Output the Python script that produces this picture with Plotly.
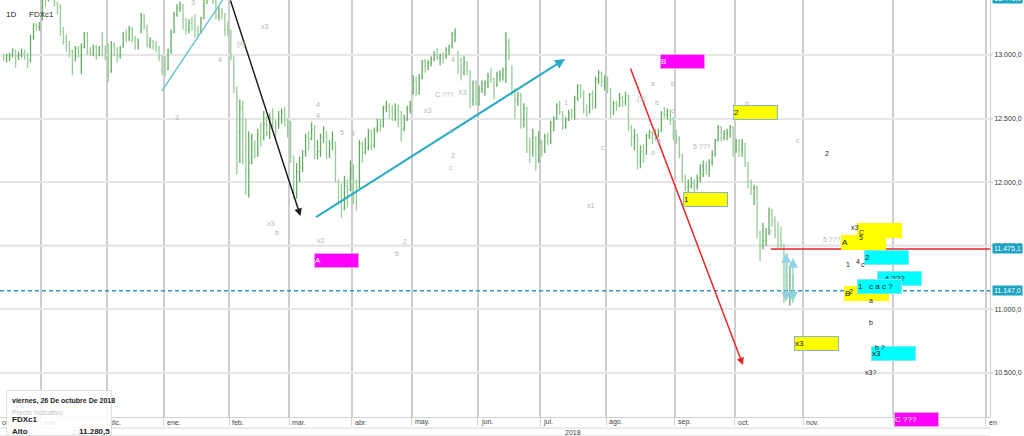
import pandas as pd
import plotly.graph_objects as go

# ---------------- DATA: daily OHLC (open, high, low, close) per month ----------------
oct17 = [(12990,13010,12950,12980),(12975,13010,12940,12995),(12990,13020,12950,12995),
         (13000,13050,12980,13040),(13030,13040,12900,12990),(12990,13030,12960,13000),
         (13000,13050,12980,13010),(13010,13040,12960,13000),(13000,13020,12900,12960),
         (12960,13160,12940,13130),(13140,13250,13120,13230),(13230,13250,13190,13220),
         (13220,13260,13190,13240)]
nov17 = [(13280,13480,13270,13460),(13450,13470,13380,13440),(13440,13500,13420,13480),
         (13480,13500,13430,13470),(13470,13540,13380,13400),(13400,13420,13320,13380),
         (13380,13400,13150,13190),(13190,13220,13080,13130),(13130,13160,13030,13080),
         (13080,13110,12980,13030),(13030,13040,12840,12960),(12960,13070,12950,13050),
         (13050,13070,12980,12990),(12990,13090,12850,13060),(13060,13180,13050,13170),
         (13170,13180,13000,13020),(13020,13060,12990,13010),(13010,13080,12990,13060),
         (13060,13080,12960,13000),(13000,13070,12990,13060),(13060,13180,12990,13050),
         (13050,13070,12960,13020)]
dec17 = [(13020,13090,12790,12870),(12870,13110,12860,13080),(13080,13100,12990,13050),
         (13050,13060,12940,12990),(12990,13070,12970,13050),(13060,13180,13060,13160),
         (13160,13200,13100,13130),(13130,13230,13110,13200),(13200,13220,13100,13130),
         (13130,13150,13040,13070),(13070,13130,13040,13110),(13180,13330,13170,13310),
         (13310,13320,13200,13220),(13220,13240,13060,13080),(13080,13140,13050,13110),
         (13110,13120,13040,13070),(13070,13110,13020,13060),(13060,13070,12950,12980),
         (12980,13000,12840,12900)]
jan18 = [(12900,12990,12830,12880),(12890,13050,12880,13020),(13020,13200,13010,13180),
         (13180,13340,13170,13320),(13320,13400,13300,13370),(13370,13420,13340,13390),
         (13390,13400,13200,13280),(13280,13290,13160,13200),(13200,13280,13170,13250),
         (13250,13300,13190,13210),(13210,13320,13140,13190),(13190,13230,13140,13190),
         (13190,13300,13170,13290),(13290,13450,13280,13440),(13440,13480,13400,13470),
         (13470,13600,13450,13560),(13560,13580,13400,13420),(13420,13440,13280,13300),
         (13300,13380,13270,13340),(13340,13370,13280,13320),(13320,13330,13150,13200),
         (13200,13260,13150,13190)]
feb18 = [(13190,13200,12960,12990),(12980,12990,12700,12750),(12740,12750,12060,12400),
         (12400,12650,12150,12580),(12580,12640,12140,12250),(12250,12500,11900,12100),
         (12100,12400,11880,12150),(12150,12380,12140,12300),(12300,12330,12190,12210),
         (12210,12420,12200,12380),(12380,12470,12280,12350),(12350,12560,12330,12460),
         (12460,12520,12360,12390),(12390,12540,12340,12500),(12500,12580,12420,12470),
         (12470,12490,12330,12460),(12460,12560,12420,12500),(12500,12580,12460,12540),
         (12540,12590,12440,12490),(12490,12500,12350,12430)]
mar18 = [(12430,12480,12150,12200),(12200,12210,11870,11920),(11920,12150,11870,12080),
         (12080,12200,12000,12120),(12120,12250,12080,12240),(12240,12380,12200,12350),
         (12350,12400,12250,12340),(12340,12470,12330,12420),(12420,12450,12180,12220),
         (12220,12330,12180,12240),(12240,12380,12200,12350),(12350,12440,12310,12390),
         (12390,12400,12180,12220),(12220,12330,12190,12300),(12300,12400,12250,12310),
         (12310,12320,12000,12100),(12000,12020,11820,11880),(11880,11990,11720,11790),
         (11790,12050,11780,11970),(11970,12020,11800,11940),(11940,12170,11930,12100)]
apr18 = [(12100,12140,11830,12000),(12000,12020,11780,11960),(11960,12330,11950,12300),
         (12300,12320,12150,12230),(12230,12350,12220,12270),(12270,12420,12250,12400),
         (12400,12410,12250,12290),(12290,12430,12270,12410),(12410,12500,12390,12450),
         (12450,12500,12400,12440),(12440,12600,12430,12590),(12590,12640,12550,12600),
         (12600,12620,12500,12560),(12560,12600,12480,12540),(12540,12620,12480,12570),
         (12570,12610,12430,12550),(12550,12560,12320,12420),(12420,12530,12400,12500),
         (12500,12600,12480,12580),(12580,12640,12540,12610)]
may18 = [(12700,12840,12690,12800),(12800,12830,12680,12700),(12700,12850,12690,12820),
         (12820,12960,12810,12950),(12950,12970,12860,12910),(12910,12960,12880,12940),
         (12940,12990,12910,12970),(12970,13030,12950,13000),(13000,13050,12960,12980),
         (12980,13010,12920,13000),(13000,13020,12930,12990),(12990,13060,12970,13040),
         (13040,13080,13000,13070),(13070,13180,13050,13160),(13160,13210,13100,13170),
         (13020,13030,12850,12960),(12960,12980,12800,12860),(12860,12990,12840,12940),
         (12940,12950,12840,12870),(12870,12880,12580,12650),(12650,12800,12600,12780),
         (12780,12800,12600,12620)]
jun18 = [(12620,12760,12600,12730),(12730,12800,12700,12770),(12770,12800,12680,12780),
         (12780,12860,12740,12830),(12830,12900,12780,12810),(12810,12820,12650,12760),
         (12760,12870,12750,12840),(12840,12880,12790,12850),(12850,12900,12800,12880),
         (12880,13180,12780,13110),(13110,13130,12960,13000),(12900,12920,12680,12720),
         (12720,12740,12500,12650),(12650,12710,12600,12680),(12680,12700,12420,12500),
         (12500,12620,12430,12580),(12580,12590,12230,12270),(12270,12350,12150,12230),
         (12230,12420,12200,12350),(12350,12360,12090,12170),(12170,12400,12150,12310)]
jul18 = [(12310,12330,12200,12250),(12250,12380,12230,12360),(12360,12390,12290,12320),
         (12320,12480,12300,12460),(12460,12520,12400,12500),(12500,12620,12490,12610),
         (12610,12640,12530,12550),(12550,12560,12410,12430),(12430,12510,12420,12490),
         (12490,12570,12480,12540),(12540,12580,12500,12520),(12520,12680,12490,12660),
         (12660,12770,12640,12760),(12760,12770,12660,12690),(12690,12720,12540,12570),
         (12570,12610,12510,12550),(12550,12700,12540,12690),(12690,12720,12570,12590),
         (12590,12830,12580,12810),(12810,12880,12770,12860),(12860,12870,12750,12790),
         (12790,12840,12720,12800)]
aug18 = [(12800,12830,12700,12730),(12730,12740,12500,12550),(12550,12640,12530,12620),
         (12620,12640,12560,12600),(12600,12700,12590,12660),(12660,12680,12590,12630),
         (12630,12710,12600,12680),(12680,12690,12400,12430),(12430,12450,12280,12360),
         (12360,12420,12250,12370),(12370,12380,12100,12160),(12160,12290,12110,12240),
         (12240,12300,12150,12220),(12220,12380,12220,12370),(12370,12410,12340,12390),
         (12390,12400,12300,12380),(12380,12420,12330,12370),(12370,12420,12350,12400),
         (12400,12560,12400,12540),(12540,12590,12500,12530),(12530,12580,12490,12560),
         (12560,12570,12450,12490),(12490,12510,12330,12370)]
sep18 = [(12370,12410,12300,12340),(12340,12360,12190,12210),(12210,12220,12000,12040),
         (12040,12060,11930,11960),(11960,12020,11920,11970),(11970,12040,11950,11990),
         (11990,12020,11920,11970),(11970,12060,11940,12030),(12030,12140,12000,12060),
         (12060,12170,12040,12130),(12130,12160,12060,12100),(12100,12180,12040,12160),
         (12160,12250,12130,12220),(12220,12340,12200,12330),(12330,12450,12320,12430),
         (12430,12440,12320,12350),(12350,12410,12330,12380),(12380,12420,12330,12390),
         (12390,12450,12350,12430),(12430,12440,12200,12250)]
oct18 = [(12250,12340,12230,12320),(12320,12340,12200,12260),(12260,12340,12200,12300),
         (12300,12310,12120,12150),(12150,12160,11950,12000),(12000,12020,11900,11950),
         (11950,11980,11820,11960),(11960,11970,11560,11600),(11600,11620,11380,11500),
         (11500,11680,11470,11540),(11540,11640,11500,11600),(11600,11800,11590,11780),
         (11780,11790,11650,11700),(11700,11730,11560,11590),(11590,11690,11480,11560),
         (11560,11650,11480,11500),(11500,11510,11050,11270),(11270,11440,11150,11190),
         (11190,11330,11030,11260),(11230,11280.5,11050,11200)]

month_blocks = [("2017-10-13", "2017-10-31", oct17), ("2017-11-01", "2017-11-30", nov17),
                ("2017-12-01", "2017-12-31", dec17), ("2018-01-01", "2018-01-31", jan18),
                ("2018-02-01", "2018-02-28", feb18), ("2018-03-01", "2018-03-31", mar18),
                ("2018-04-01", "2018-04-30", apr18), ("2018-05-01", "2018-05-31", may18),
                ("2018-06-01", "2018-06-30", jun18), ("2018-07-01", "2018-07-31", jul18),
                ("2018-08-01", "2018-08-31", aug18), ("2018-09-01", "2018-09-30", sep18),
                ("2018-10-01", "2018-10-26", oct18)]
holidays = ["2017-12-25", "2017-12-26", "2018-01-01", "2018-03-30", "2018-04-02", "2018-05-01"]

# x-axis month ticks and labels
month_ticks = ["2017-11-01", "2017-12-01", "2018-01-02", "2018-02-01", "2018-03-01", "2018-04-03",
               "2018-05-02", "2018-06-01", "2018-07-02", "2018-08-01", "2018-09-03", "2018-10-01",
               "2018-11-01", "2018-12-01", "2019-01-01"]
month_labels = ["nov.", "dic.", "ene.", "feb.", "mar.", "abr.", "may.", "jun.", "jul.", "ago.",
                "sep.", "oct.", "nov.", "dic.", "en"]
price_ticks = [10500, 11000, 11500, 12000, 12500, 13000]

# levels
last_high = 11280.5
red_level = 11475.1
dash_level = 11147.0
top_level = 13446.0

# drawn boxes: (x, y_top, text, fill, border, text colour)
boxes = [
    ("2018-03-13 05:00", 11443, "A", "#ff00ff", "#f29af2", "white"),
    ("2018-08-27 00:00", 13007, "B", "#ff00ff", "#f29af2", "white"),
    ("2018-09-28 10:00", 12607, "2", "#ffff00", "#86b9c6", "#111"),
    ("2018-09-05 17:00", 11923, "1", "#ffff00", "#86b9c6", "#111"),
    ("2018-10-26 19:00", 10790, "x3", "#ffff00", "#86b9c6", "#111"),
    ("2018-11-18 22:00", 11679, " ", "#ffff00", "#ffff00", "#111"),
    ("2018-11-13 14:00", 11584, "A", "#ffff00", "#ffff00", "#111"),
    ("2018-11-21 06:00", 11466, "2", "#00ffff", "#7fe8f0", "#111"),
    ("2018-11-14 14:00", 11184, "B", "#ffff00", "#ffff00", "#111"),
    ("2018-11-25 14:00", 11301, "   4 ???", "#00ffff", "#7fe8f0", "#111"),
    ("2018-11-18 22:00", 11239, "1   c a c ?", "#00ffff", "#7fe8f0", "#111"),
    ("2018-11-23 14:00", 10712, "x3", "#00ffff", "#7fe8f0", "#111"),
    ("2018-12-01 07:00", 10193, "C ???", "#ff00ff", "#f29af2", "white"),
]
# dark wave labels
dark_labels = [
    ("2018-11-18 05:00", 11640, "x3"), ("2018-11-20 14:00", 11608, "C"), ("2018-11-20 10:00", 11569, "5"),
    ("2018-11-15 22:00", 11349, "1"), ("2018-11-19 05:00", 11380, "4"), ("2018-11-20 20:00", 11355, "c"),
    ("2018-11-16 22:00", 11144, "2"), ("2018-11-23 14:00", 11073, "a"), ("2018-11-23 14:00", 10900, "b"),
    ("2018-11-26 14:00", 10704, "b ?"), ("2018-11-23 14:00", 10507, "x3?"), ("2018-11-08 22:00", 12229, "2"),
]
# light grey wave labels
grey_labels = [
    ("2018-01-15 19:00", 13416, "3"), ("2018-02-06 19:00", 13086, "(ii)"), ("2018-01-26 19:00", 12968, "4"),
    ("2018-01-08 10:00", 12512, "3"), ("2018-02-16 19:00", 13220, "x3"), ("2018-03-14 19:00", 12607, "4"),
    ("2018-03-14 19:00", 12528, "4"), ("2018-03-26 19:00", 12394, "5"), ("2018-04-03 05:00", 12386, "4"),
    ("2018-05-09 12:00", 12567, "x3"), ("2018-05-16 22:00", 12693, "C ???"), ("2018-05-24 22:00", 12701, "X3"),
    ("2018-05-21 22:00", 12968, "4"), ("2018-05-21 12:00", 12410, "c"), ("2018-05-21 22:00", 12206, "2"),
    ("2018-05-21 00:00", 12119, "c"), ("2018-02-21 02:00", 11679, "x3"), ("2018-02-22 19:00", 11608, "b"),
    ("2018-03-15 19:00", 11545, "v2"), ("2018-04-26 22:00", 11537, "2"), ("2018-04-23 22:00", 11443, "b"),
    ("2018-07-25 00:00", 11820, "x1"), ("2018-07-12 14:00", 12630, "1"), ("2018-07-31 00:00", 12276, "c"),
    ("2018-08-22 17:00", 12779, "a"), ("2018-08-31 10:00", 12779, "b"), ("2018-08-17 00:00", 12654, "(3)"),
    ("2018-08-24 00:00", 12630, "b"), ("2018-08-31 10:00", 12567, "c"), ("2018-08-24 17:00", 12331, "a"),
    ("2018-08-22 17:00", 12237, "a"), ("2018-09-14 00:00", 12284, "5 ???"), ("2018-10-05 00:00", 12622, "b"),
    ("2018-10-30 05:00", 12331, "c"), ("2018-10-16 17:00", 11608, "2"), ("2018-11-10 12:00", 11553, "5 ???"),
]

# ---------------- build series ----------------
dates, opens, highs, lows, closes = [], [], [], [], []
for start, end, rows in month_blocks:
    days = [d for d in pd.bdate_range(start, end) if d.strftime("%Y-%m-%d") not in holidays]
    assert len(days) == len(rows), (start, len(days), len(rows))
    for d, (o, h, l, c) in zip(days, rows):
        dates.append(d + pd.Timedelta(hours=12))
        opens.append(o); highs.append(h); lows.append(l); closes.append(c)

breaks = [d.strftime("%Y-%m-%d") for d in pd.date_range("2017-10-01", "2018-10-28")
          if d.weekday() >= 5 or d.strftime("%Y-%m-%d") in holidays]

FONT = "Liberation Sans, Arial, sans-serif"

fig = go.Figure()
fig.add_trace(go.Ohlc(
    x=dates, open=opens, high=highs, low=lows, close=closes,
    increasing=dict(line=dict(color="#62ad62", width=1.3)),
    decreasing=dict(line=dict(color="#97cd97", width=1.3)),
    tickwidth=0.3, hoverinfo="skip", showlegend=False))

shapes = []
shapes.append(dict(type="line", xref="paper", x0=0, x1=1, yref="y", y0=11500, y1=11500,
                   line=dict(color="#b8b8b8", width=2), layer="below"))
shapes.append(dict(type="line", xref="paper", x0=0, x1=1, yref="y", y0=dash_level, y1=dash_level,
                   line=dict(color="#2a9db5", width=1.5, dash="4px,3px")))
shapes.append(dict(type="line", xref="x", x0="2018-10-17 02:00", x1="2019-01-06", yref="y",
                   y0=red_level, y1=red_level, line=dict(color="#e8262a", width=1.5)))
shapes.append(dict(type="line", xref="x", x0="2017-12-29 10:00", x1="2018-01-30 00:00", yref="y",
                   y0=12717, y1=13440, line=dict(color="#72c7d6", width=1.5)))
# axis label band borders
for yb in [-0.0265, -0.0455]:
    shapes.append(dict(type="line", xref="paper", x0=0, x1=1, yref="paper", y0=yb, y1=yb,
                       line=dict(color="#d6d6d6", width=1)))

annotations = []
def arrow(x, y, ax, ay, color, width, side="end", head=2, size=1.0):
    annotations.append(dict(x=x, y=y, ax=ax, ay=ay, xref="x", yref="y", axref="x", ayref="y",
                            text="", showarrow=True, arrowcolor=color, arrowwidth=width,
                            arrowhead=head, startarrowhead=head, arrowside=side, arrowsize=size,
                            startarrowsize=size, standoff=0, startstandoff=0))

arrow("2018-03-06 19:00", 11734, "2018-02-01 05:00", 13440, "#1e1e1e", 1.5)
arrow("2018-07-12 07:00", 12968, "2018-03-13 12:00", 11718, "#2aaac4", 2)
arrow("2018-10-03 19:00", 10562, "2018-08-13 00:00", 12905, "#e8262a", 1.5)
arrow("2018-10-24 05:00", 11443, "2018-10-24 05:00", 11050, "#8fd2e3", 1.3, side="end+start", size=1.5)
arrow("2018-10-26 12:00", 11404, "2018-10-26 12:00", 11050, "#8fd2e3", 1.3, side="end+start", size=1.5)

for x, y, t in grey_labels:
    annotations.append(dict(x=x, y=y, xref="x", yref="y", text=t, showarrow=False,
                            font=dict(family=FONT, size=7, color="#b4b4b4")))

# month labels in the axis row
annotations.append(dict(x=0, y=-0.012, xref="paper", yref="paper", text="oc", showarrow=False,
                        xanchor="left", yanchor="middle", font=dict(family=FONT, size=7, color="#444")))
for tv, lab in zip(month_ticks, month_labels):
    annotations.append(dict(x=tv, y=-0.012, xref="x", yref="paper", text=lab, showarrow=False,
                            xanchor="left", yanchor="middle", xshift=1,
                            font=dict(family=FONT, size=7, color="#444")))
annotations.append(dict(x="2017-11-20", y=-0.036, xref="x", yref="paper", text="2017", showarrow=False,
                        yanchor="middle", font=dict(family=FONT, size=7, color="#444")))
annotations.append(dict(x="2018-07-17", y=-0.036, xref="x", yref="paper", text="2018", showarrow=False,
                        yanchor="middle", font=dict(family=FONT, size=7, color="#444")))

for x, y, t, fill, border, tc in boxes:
    annotations.append(dict(x=x, y=y, xref="x", yref="y", text=t, showarrow=False,
                            xanchor="left", yanchor="top", align="left", valign="middle",
                            width=43, height=13, borderpad=0, borderwidth=1,
                            bgcolor=fill, bordercolor=border,
                            font=dict(family=FONT, size=8, color=tc)))

for x, y, t in dark_labels:
    annotations.append(dict(x=x, y=y, xref="x", yref="y", text=t, showarrow=False,
                            font=dict(family=FONT, size=7, color="#222")))

# right-hand price tags
for yref, yv, txt in [("paper", 1.004, "13.446,0"),
                      ("y", red_level, "11.475,1"),
                      ("y", dash_level, "11.147,0")]:
    annotations.append(dict(x=1, y=yv, xref="paper", yref=yref, text=txt, showarrow=False,
                            xanchor="left", yanchor="middle", xshift=2, bgcolor="#1ba3c1",
                            borderpad=1, font=dict(family=FONT, size=7, color="white")))

# top-left caption
annotations.append(dict(x=0.004, y=0.981, xref="paper", yref="paper", text="1D", showarrow=False,
                        xanchor="left", font=dict(family=FONT, size=8, color="#222")))
annotations.append(dict(x=0.0273, y=0.981, xref="paper", yref="paper", text="FDXc1", showarrow=False,
                        xanchor="left", font=dict(family=FONT, size=8, color="#222")))

# info box bottom-left
annotations.append(dict(x=0.006, y=0.0647, xref="paper", yref="paper", text=" ", showarrow=False,
                        xanchor="left", yanchor="top", width=104, height=44, borderpad=0,
                        bgcolor="rgba(255,255,255,0.85)", bordercolor="#e0e0e0", borderwidth=1))
info = [(0.0101, 0.0384, "<b>viernes, 26 De octubre De 2018</b>", 7, "#222", "left"),
        (0.0101, 0.0110, "Precio indicativo", 7, "#c4c4c4", "left"),
        (0.0101, -0.0050, "<b>FDXc1</b>", 8, "#222", "left"),
        (0.0101, -0.0336, "<b>Alto</b>", 8, "#222", "left"),
        (0.1131, -0.0336, "<b>11.280,5</b>", 8, "#222", "right")]
for x, y, t, s, c, anc in info:
    annotations.append(dict(x=x, y=y, xref="paper", yref="paper", text=t, showarrow=False,
                            xanchor=anc, yanchor="middle", font=dict(family=FONT, size=s, color=c)))

fig.update_layout(
    width=1024, height=436,
    margin=dict(l=0, r=34, t=0, b=19, autoexpand=False),
    paper_bgcolor="white", plot_bgcolor="white",
    separators=",.",
    font=dict(family=FONT, size=8, color="#333"),
    showlegend=False,
    shapes=shapes, annotations=annotations,
    xaxis=dict(type="date", range=["2017-10-12 07:00", "2019-01-02 10:00"],
               rangebreaks=[dict(values=breaks)], automargin=False,
               rangeslider=dict(visible=False),
               tickvals=month_ticks, showticklabels=False,
               ticks="outside", ticklen=8, tickcolor="#d4d4d4", tickwidth=1,
               showgrid=True, gridcolor="#cdcdcd", gridwidth=1.5,
               showline=True, linecolor="#d0d0d0", linewidth=1, zeroline=False),
    yaxis=dict(side="right", range=[10154, 13432], tickvals=price_ticks, tickformat=",.1f",
               automargin=False,
               showgrid=True, gridcolor="#e6e6e6", gridwidth=2, zeroline=False,
               ticks="outside", ticklen=2, tickcolor="#cccccc",
               showline=True, linecolor="#cfcfcf", linewidth=1,
               tickfont=dict(family=FONT, size=7, color="#333")),
)

fig.write_html("out.html", config={"displayModeBar": False},
               post_script="document.body.style.margin='0';document.body.style.overflow='hidden';")
